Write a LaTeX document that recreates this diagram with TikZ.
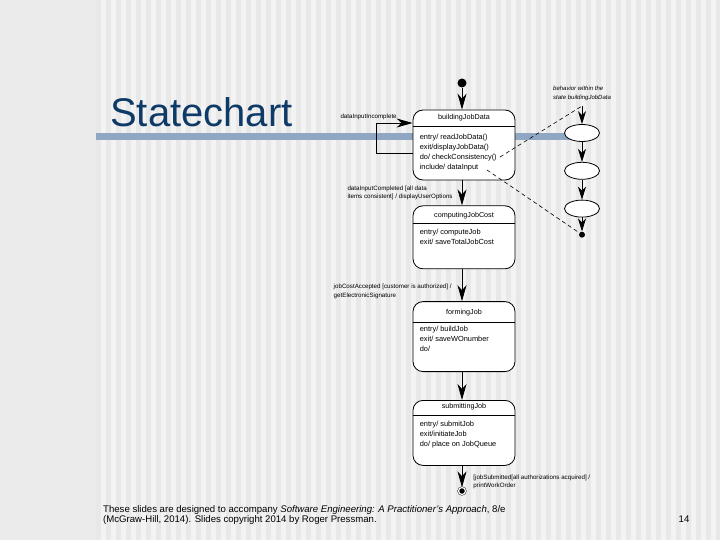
\documentclass[tikz,border=0pt]{standalone}
\usepackage{fontspec}
\setmainfont{Liberation Sans}
\usetikzlibrary{positioning,shapes.geometric,arrows.meta}

\definecolor{PanelGray}{HTML}{EBEBEB}
\definecolor{StripeLight}{HTML}{F3F3F3}
\definecolor{StripeDark}{HTML}{E8E8E8}
\definecolor{BarBlue}{HTML}{8FA7C3}
\definecolor{TitleBlue}{HTML}{0E3A68}

\tikzset{
  statebox/.style={draw=black, fill=white, rounded corners=10pt, minimum width=102pt, inner sep=0pt, line width=0.8pt},
  statetitle/.style={font=\fontsize{7.2}{8}\selectfont, inner sep=0pt},
  statebody/.style={font=\fontsize{7.4}{10}\selectfont, align=left, inner sep=0pt, anchor=north west},
  translabel/.style={font=\fontsize{6.2}{8.5}\selectfont, align=left, inner sep=0pt},
  trans/.style={-{Stealth[length=16pt,width=9pt,inset=5pt]}, line width=0.8pt},
  subtrans/.style={-{Stealth[length=13pt,width=8pt,inset=4pt]}, line width=0.8pt},
  substate/.style={ellipse, draw=black, fill=white, minimum width=35pt, minimum height=17pt, inner sep=0pt, line width=0.8pt},
  notelink/.style={line width=0.6pt, dash pattern=on 4pt off 3pt},
}

\begin{document}
\begin{tikzpicture}[x=1pt, y=-1pt]
  \useasboundingbox (0,0) rectangle (720,540);

  % slide background
  \fill[PanelGray] (0,0) rectangle (96,540);
  \fill[StripeLight] (96,0) rectangle (720,540);
  \foreach \x in {96,106,...,716}
    \fill[StripeDark] (\x,0) rectangle ++(5,540);
  \fill[BarBlue] (96,133) rectangle (570,140);

  % title and footer
  \node[anchor=base west, font=\fontsize{40}{40}\selectfont, text=TitleBlue, inner sep=0pt](SlideTitle) at (110,127){Statechart};
  \node[anchor=north west, font=\fontsize{9.6}{10.5}\selectfont, align=left, inner sep=0pt](Footer) at (103,505)
    {These slides are designed to accompany \textit{Software Engineering: A Practitioner's Approach}, 8/e\\
     (McGraw-Hill, 2014). Slides copyright 2014 by Roger Pressman.};
  \node[font=\fontsize{9.6}{10.5}\selectfont, inner sep=0pt](PageNumber) at (684,519){14};

  % states
  \node[circle, fill=black, minimum size=9pt, inner sep=0pt](InitialState) at (462,83){};
  \node[statebox, minimum height=70pt](BuildingJobData) at (464,145){};
  \node[statebox, minimum height=63pt, below=25pt of BuildingJobData](ComputingJobCost){};
  \node[statebox, minimum height=70pt, below=32pt of ComputingJobCost](FormingJob){};
  \node[statebox, minimum height=65pt, below=28pt of FormingJob](SubmittingJob){};
  \node[circle, fill=black, draw=black, double=white, double distance=1.2pt, minimum size=7pt, inner sep=0pt](FinalState) at (462,491){};

  % buildingJobData
  \node[statetitle](BuildingJobDataTitle) at ([yshift=-8pt]BuildingJobData.north){buildingJobData};
  \draw[line width=1pt] ([yshift=-17pt]BuildingJobData.north west) -- ([yshift=-17pt]BuildingJobData.north east);
  \node[statebody](BuildingJobDataBody) at ([xshift=7pt, yshift=-24pt]BuildingJobData.north west)
    {entry/ readJobData()\\exit/displayJobData()\\do/ checkConsistency()\\include/ dataInput};

  % computingJobCost
  \node[statetitle](ComputingJobCostTitle) at ([yshift=-10pt]ComputingJobCost.north){computingJobCost};
  \draw[line width=1pt] ([yshift=-18pt]ComputingJobCost.north west) -- ([yshift=-18pt]ComputingJobCost.north east);
  \node[statebody](ComputingJobCostBody) at ([xshift=7pt, yshift=-24pt]ComputingJobCost.north west)
    {entry/ computeJob\\exit/ saveTotalJobCost};

  % formingJob
  \node[statetitle](FormingJobTitle) at ([yshift=-11pt]FormingJob.north){formingJob};
  \draw[line width=1pt] ([yshift=-21pt]FormingJob.north west) -- ([yshift=-21pt]FormingJob.north east);
  \node[statebody](FormingJobBody) at ([xshift=7pt, yshift=-25pt]FormingJob.north west)
    {entry/ buildJob\\exit/ saveWOnumber\\do/};

  % submittingJob
  \node[statetitle](SubmittingJobTitle) at ([yshift=-7pt]SubmittingJob.north){submittingJob};
  \draw[line width=1pt] ([yshift=-15pt]SubmittingJob.north west) -- ([yshift=-15pt]SubmittingJob.north east);
  \node[statebody](SubmittingJobBody) at ([xshift=7pt, yshift=-21pt]SubmittingJob.north west)
    {entry/ submitJob\\exit/initiateJob\\do/ place on JobQueue};

  % transitions
  \draw[trans] (InitialState) -- (InitialState |- BuildingJobData.north);
  \draw[trans] ([yshift=-8pt]BuildingJobData.west) -- ++(-36,0) |- ([yshift=22pt]BuildingJobData.west)
    node[pos=0.5, translabel, anchor=south, xshift=-8pt, yshift=3pt]{dataInputIncomplete};
  \draw[trans] (InitialState |- BuildingJobData.south) -- (InitialState |- ComputingJobCost.north)
    node[midway, translabel, left=9pt]{dataInputCompleted [all data\\items consistent] / displayUserOptions};
  \draw[trans] (InitialState |- ComputingJobCost.south) -- (InitialState |- FormingJob.north)
    node[pos=0.7, translabel, left=10pt]{jobCostAccepted [customer is authorized] /\\getElectronicSignature};
  \draw[trans] (InitialState |- FormingJob.south) -- (InitialState |- SubmittingJob.north);
  \draw[trans] (InitialState |- SubmittingJob.south) -- (FinalState)
    node[pos=0.75, translabel, right=11pt]{[jobSubmitted[all authorizations acquired] /\\printWorkOrder};

  % behavior within buildingJobData
  \node[translabel, font=\fontsize{6}{9}\selectfont\itshape, anchor=north west](SubNote) at (553,86)
    {behavior within the\\state buildingJobData};
  \coordinate (SubStart) at (582,106);
  \node[substate](SubA) at (582,133){};
  \node[substate, below=20pt of SubA](SubB){};
  \node[substate, below=20pt of SubB](SubC){};
  \node[circle, fill=black, minimum size=6pt, inner sep=0pt, below=14pt of SubC](SubEnd){};
  \draw[subtrans] (SubStart) -- (SubA);
  \draw[subtrans] (SubA) -- (SubB);
  \draw[subtrans] (SubB) -- (SubC);
  \draw[subtrans] (SubC) -- (SubEnd);

  % links to the note
  \coordinate (CheckMark) at (500,157);
  \coordinate (IncludeMark) at (487,170);
  \draw[notelink] (CheckMark) -- (SubStart);
  \draw[notelink] (IncludeMark) -- (SubEnd);
\end{tikzpicture}
\end{document}
